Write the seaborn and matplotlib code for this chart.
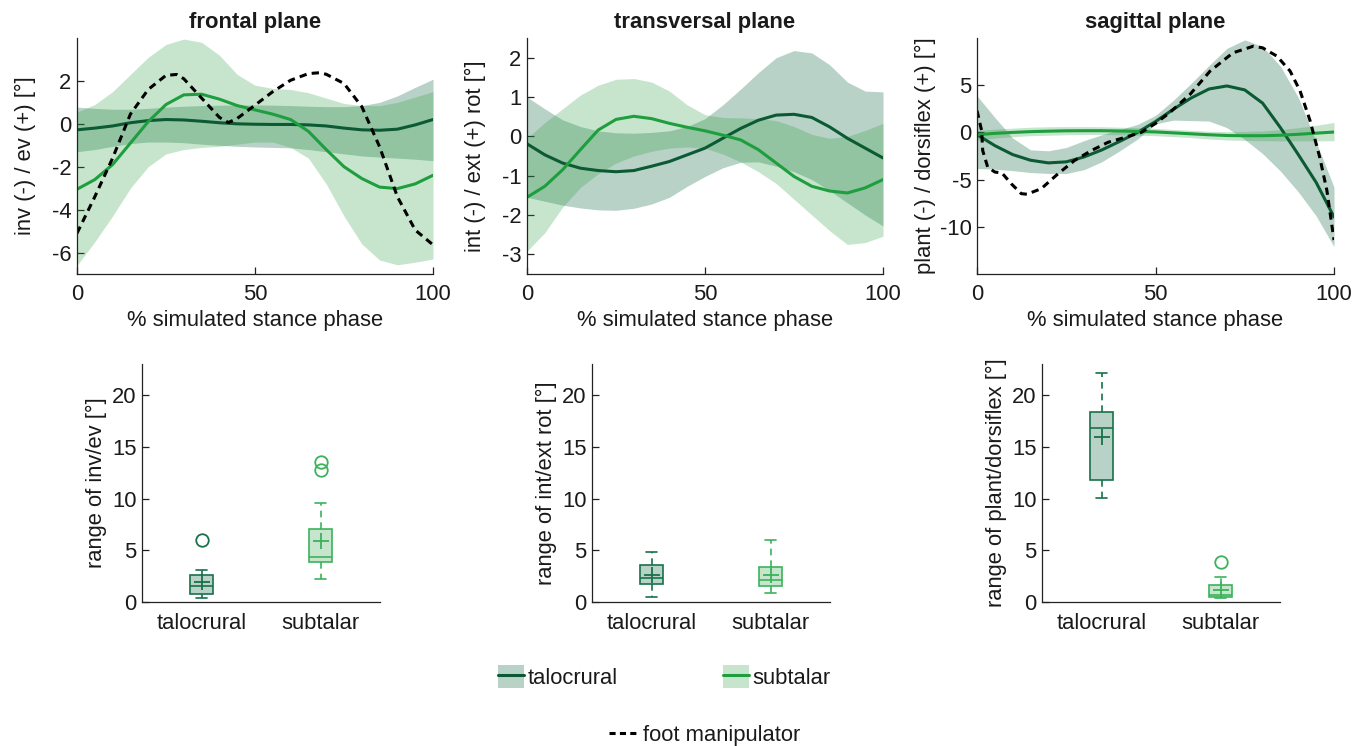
import numpy as np
import pandas as pd
import matplotlib
matplotlib.use("Agg")
import matplotlib.pyplot as plt
import seaborn as sns
from matplotlib.patches import Patch
from matplotlib.lines import Line2D
from matplotlib.legend_handler import HandlerTuple

# ---------------- data ----------------
pct = [0, 5, 10, 15, 20, 25, 30, 35, 40, 45, 50, 55, 60, 65, 70, 75, 80, 85, 90, 95, 100]

# frontal plane
fr_tc_mean = [-0.28, -0.2, -0.1, 0.05, 0.15, 0.2, 0.18, 0.12, 0.05, 0.0, -0.02, -0.03, -0.03, -0.05, -0.1, -0.2, -0.28, -0.3, -0.25, -0.05, 0.2]
fr_tc_up = [0.78, 0.72, 0.68, 0.68, 0.72, 0.78, 0.82, 0.85, 0.87, 0.88, 0.88, 0.87, 0.85, 0.82, 0.8, 0.8, 0.85, 1.0, 1.3, 1.7, 2.08]
fr_tc_lo = [-1.3, -1.2, -1.05, -0.92, -0.85, -0.85, -0.88, -0.95, -1.0, -1.05, -1.08, -1.1, -1.12, -1.2, -1.3, -1.4, -1.5, -1.55, -1.6, -1.65, -1.72]
fr_st_mean = [-3.05, -2.6, -1.9, -0.9, 0.1, 0.9, 1.35, 1.38, 1.15, 0.85, 0.65, 0.45, 0.2, -0.35, -1.2, -2.0, -2.55, -2.95, -3.02, -2.8, -2.4]
fr_st_up = [0.55, 0.9, 1.5, 2.3, 3.1, 3.7, 3.95, 3.8, 3.2, 2.3, 1.8, 1.65, 1.6, 1.45, 1.2, 0.95, 0.85, 0.85, 1.0, 1.25, 1.5]
fr_st_lo = [-6.6, -5.5, -4.3, -3.0, -2.0, -1.4, -1.2, -1.1, -1.05, -0.95, -0.85, -0.85, -1.1, -1.6, -2.8, -4.3, -5.6, -6.35, -6.57, -6.45, -6.3]
fr_fm_x = [0, 5, 10, 15, 20, 25, 28, 30, 35, 40, 42.5, 45, 50, 55, 60, 65, 68, 70, 75, 80, 85, 90, 95, 100]
fr_fm = [-5.1, -3.4, -1.6, 0.45, 1.6, 2.26, 2.3, 2.1, 1.2, 0.3, 0.06, 0.25, 0.87, 1.5, 2.03, 2.34, 2.38, 2.31, 1.88, 0.8, -1.07, -3.4, -4.95, -5.64]

# transversal plane
tr_tc_mean = [-0.19, -0.47, -0.68, -0.81, -0.87, -0.9, -0.87, -0.76, -0.64, -0.47, -0.3, -0.05, 0.2, 0.41, 0.54, 0.56, 0.48, 0.24, -0.05, -0.3, -0.55]
tr_tc_up = [1.0, 0.7, 0.42, 0.25, 0.14, 0.09, 0.08, 0.1, 0.14, 0.25, 0.45, 0.8, 1.2, 1.62, 2.0, 2.18, 2.12, 1.82, 1.38, 1.15, 1.13]
tr_tc_lo = [-1.55, -1.65, -1.75, -1.82, -1.87, -1.88, -1.83, -1.72, -1.55, -1.27, -1.02, -0.8, -0.66, -0.65, -0.76, -0.9, -1.1, -1.38, -1.69, -2.0, -2.28]
tr_st_mean = [-1.55, -1.27, -0.85, -0.34, 0.16, 0.43, 0.51, 0.45, 0.33, 0.23, 0.14, 0.03, -0.09, -0.34, -0.68, -1.02, -1.27, -1.39, -1.44, -1.31, -1.1]
tr_st_up = [-0.05, 0.35, 0.7, 1.05, 1.3, 1.45, 1.47, 1.38, 1.15, 0.8, 0.55, 0.48, 0.47, 0.45, 0.4, 0.25, 0.05, -0.05, 0.0, 0.15, 0.33]
tr_st_lo = [-2.92, -2.45, -1.8, -1.3, -0.95, -0.68, -0.5, -0.38, -0.3, -0.27, -0.3, -0.45, -0.65, -0.9, -1.2, -1.6, -2.0, -2.4, -2.75, -2.7, -2.54]

# sagittal plane
sg_tc_mean = [-0.24, -1.4, -2.35, -2.95, -3.23, -3.12, -2.6, -1.85, -0.95, 0.0, 1.15, 2.45, 3.65, 4.6, 4.92, 4.5, 3.1, 0.5, -2.35, -5.3, -8.96]
sg_tc_up = [3.87, 1.58, -0.6, -1.85, -1.95, -1.6, -0.87, -0.25, 0.3, 0.85, 1.8, 3.4, 5.2, 7.1, 8.9, 9.8, 9.1, 7.0, 3.7, -1.0, -5.8]
sg_tc_lo = [-3.83, -3.9, -4.05, -4.25, -4.35, -4.35, -3.95, -3.1, -1.95, -0.7, 0.9, 1.3, 1.25, 1.2, 0.5, -0.75, -2.25, -4.1, -6.3, -8.85, -12.1]
sg_st_mean = [-0.24, -0.1, 0.0, 0.08, 0.13, 0.17, 0.18, 0.18, 0.15, 0.1, 0.05, -0.05, -0.15, -0.25, -0.33, -0.35, -0.35, -0.3, -0.2, -0.08, 0.04]
sg_st_up = [0.2, 0.35, 0.45, 0.55, 0.6, 0.62, 0.62, 0.6, 0.55, 0.5, 0.42, 0.32, 0.22, 0.12, 0.08, 0.1, 0.15, 0.3, 0.5, 0.75, 1.05]
sg_st_lo = [-0.85, -0.6, -0.45, -0.35, -0.3, -0.25, -0.22, -0.22, -0.25, -0.3, -0.35, -0.45, -0.55, -0.7, -0.8, -0.85, -0.88, -0.9, -0.9, -0.9, -0.88]
sg_fm_x = [0, 1.3, 1.6, 3, 5, 7, 9.6, 12.4, 14, 18, 22.7, 27.3, 32, 36.7, 41.4, 46, 50, 54, 59.7, 65.3, 71.7, 77.4, 80, 84, 87.7, 90.5, 93.3, 96, 98, 100]
sg_fm = [2.3, 0.18, -1.93, -3.69, -4.2, -4.3, -5.44, -6.49, -6.55, -5.96, -4.38, -2.98, -1.93, -1.05, -0.53, 0.0, 0.95, 2.1, 4.04, 6.5, 8.43, 9.13, 8.96, 8.08, 6.5, 4.39, 1.23, -2.63, -6.14, -11.4]

# box plots (range of motion), groups: talocrural, subtalar
box_groups = ["talocrural", "subtalar"]
fr_whislo = [0.4, 2.25]; fr_q1 = [0.8, 3.88]; fr_med = [1.58, 4.33]; fr_q3 = [2.65, 7.1]
fr_whishi = [3.07, 9.6]; fr_mean = [1.94, 5.94]; fr_fliers = [[5.98], [12.76, 13.54]]
tr_whislo = [0.48, 0.84]; tr_q1 = [1.74, 1.55]; tr_med = [2.33, 2.16]; tr_q3 = [3.62, 3.36]
tr_whishi = [4.81, 5.98]; tr_mean = [2.58, 2.58]; tr_fliers = [[], []]
sg_whislo = [10.02, 0.39]; sg_q1 = [11.83, 0.48]; sg_med = [16.8, 0.71]; sg_q3 = [18.38, 1.68]
sg_whishi = [22.1, 2.42]; sg_mean = [15.93, 1.2]; sg_fliers = [[], [3.84]]

titles = ["frontal plane", "transversal plane", "sagittal plane"]
top_ylabels = ["inv (-) / ev (+) [°]", "int (-) / ext (+) rot [°]", "plant (-) / dorsiflex (+) [°]"]
bot_ylabels = ["range of inv/ev [°]", "range of int/ext rot [°]", "range of plant/dorsiflex [°]"]
xlabel = "% simulated stance phase"

# ---------------- style ----------------
sns.set_theme(style="ticks")
plt.rcParams['font.family'] = ['Liberation Sans', 'DejaVu Sans']
plt.rcParams['axes.unicode_minus'] = False
FS = 15.8
TC_LINE = '#0b5a33'
ST_LINE = '#1e9e3e'
TC_FILL = '#156c47'; TC_A = 0.30
ST_FILL = '#239b37'; ST_A = 0.25
TC_BOX = '#177249'
ST_BOX = '#3bb35a'
TXT = '#1a1a1a'

W, H = 1365, 746
fig = plt.figure(figsize=(W / 100, H / 100), dpi=100)
fig.patch.set_facecolor('white')

def fa(l, t, w, h):
    return [l / W, 1 - (t + h) / H, w / W, h / H]

top_axes = [fig.add_axes(fa(77, 38, 356, 236)),
            fig.add_axes(fa(527, 38, 356, 236)),
            fig.add_axes(fa(977, 38, 357, 236))]
bot_axes = [fig.add_axes(fa(142, 364, 238, 238)),
            fig.add_axes(fa(592, 364, 238, 238)),
            fig.add_axes(fa(1042, 364, 238, 238))]

planes = [
    (fr_tc_mean, fr_tc_up, fr_tc_lo, fr_st_mean, fr_st_up, fr_st_lo, fr_fm_x, fr_fm),
    (tr_tc_mean, tr_tc_up, tr_tc_lo, tr_st_mean, tr_st_up, tr_st_lo, None, None),
    (sg_tc_mean, sg_tc_up, sg_tc_lo, sg_st_mean, sg_st_up, sg_st_lo, sg_fm_x, sg_fm),
]
ylims = [(-7, 4), (-3.5, 2.5), (-15, 10)]
yticks = [[-6, -4, -2, 0, 2], [-3, -2, -1, 0, 1, 2], [-10, -5, 0, 5]]

for i, ax in enumerate(top_axes):
    tcm, tcu, tcl, stm, stu, stl, fmx, fm = planes[i]
    ax.fill_between(pct, tcl, tcu, color=TC_FILL, alpha=TC_A, lw=0)
    ax.fill_between(pct, stl, stu, color=ST_FILL, alpha=ST_A, lw=0)
    df = pd.DataFrame({"pct": pct, "tc": tcm, "st": stm})
    sns.lineplot(data=df, x="pct", y="tc", ax=ax, color=TC_LINE, lw=2.2)
    sns.lineplot(data=df, x="pct", y="st", ax=ax, color=ST_LINE, lw=2.2)
    if fm is not None:
        dff = pd.DataFrame({"x": fmx, "y": fm})
        sns.lineplot(data=dff, x="x", y="y", ax=ax, color='black', lw=2.2,
                     linestyle=(0, (2.4, 1.7)))
    ax.set_xlim(0, 100)
    ax.set_ylim(*ylims[i])
    ax.set_xticks([0, 50, 100])
    ax.set_yticks(yticks[i])
    ax.set_title(titles[i], fontsize=FS, fontweight='bold', pad=7, color=TXT)
    ax.set_xlabel(xlabel, fontsize=FS, labelpad=4, color=TXT)
    ax.set_ylabel(top_ylabels[i], fontsize=FS, color=TXT)
    ax.yaxis.set_label_coords(-41 / 356, 0.5)

box_sets = [
    (fr_whislo, fr_q1, fr_med, fr_q3, fr_whishi, fr_mean, fr_fliers),
    (tr_whislo, tr_q1, tr_med, tr_q3, tr_whishi, tr_mean, tr_fliers),
    (sg_whislo, sg_q1, sg_med, sg_q3, sg_whishi, sg_mean, sg_fliers),
]
box_cols = [(TC_BOX, TC_FILL, TC_A), (ST_BOX, ST_FILL, ST_A)]

for i, ax in enumerate(bot_axes):
    wl, q1, md, q3, wh, mn, fl = box_sets[i]
    for j in range(2):
        ec, fc, a = box_cols[j]
        stats = [dict(whislo=wl[j], q1=q1[j], med=md[j], q3=q3[j], whishi=wh[j],
                      mean=mn[j], fliers=fl[j], label=box_groups[j])]
        ax.bxp(stats, positions=[j + 1], widths=0.2, capwidths=0.1,
               patch_artist=True, showmeans=True, manage_ticks=False,
               boxprops=dict(facecolor=matplotlib.colors.to_rgba(fc, a), edgecolor=ec, lw=1.2),
               medianprops=dict(color=ec, lw=1.2),
               whiskerprops=dict(color=ec, lw=1.2, linestyle=(0, (4, 3))),
               capprops=dict(color=ec, lw=1.2),
               meanprops=dict(marker='+', markeredgecolor=ec, markersize=11, markeredgewidth=1.3),
               flierprops=dict(marker='o', markerfacecolor='none', markeredgecolor=ec,
                               markersize=9, markeredgewidth=1.3))
    ax.set_xlim(0.5, 2.5)
    ax.set_ylim(0, 23)
    ax.set_yticks([0, 5, 10, 15, 20])
    ax.set_xticks([1, 2])
    ax.set_xticklabels(box_groups)
    ax.set_ylabel(bot_ylabels[i], fontsize=FS, color=TXT)
    ax.yaxis.set_label_coords(-35 / 238, 0.5)

for ax in top_axes + bot_axes:
    sns.despine(ax=ax)
    ax.set_facecolor('white')
    for s in ['left', 'bottom']:
        ax.spines[s].set_linewidth(0.9)
        ax.spines[s].set_color('#222222')
    ax.tick_params(direction='in', labelsize=FS, width=0.9, color='#222222', labelcolor=TXT)
    ax.tick_params(axis='y', length=5, pad=4)
for ax in top_axes:
    ax.tick_params(axis='x', length=5, pad=7)
for ax in bot_axes:
    ax.tick_params(axis='x', length=0, pad=8)

# legends
h_tc = (Patch(facecolor=matplotlib.colors.to_rgba(TC_FILL, TC_A), edgecolor='none'),
        Line2D([], [], color=TC_LINE, lw=2.2))
h_st = (Patch(facecolor=matplotlib.colors.to_rgba(ST_FILL, ST_A), edgecolor='none'),
        Line2D([], [], color=ST_LINE, lw=2.2))
leg1 = fig.legend([h_tc, h_st], box_groups, loc='center', bbox_to_anchor=(664 / W, 1 - 677 / H),
                  ncol=2, frameon=False, fontsize=FS, handlelength=1.2, handleheight=1.2,
                  handletextpad=0.15, columnspacing=4.8, labelcolor=TXT,
                  handler_map={tuple: HandlerTuple(ndivide=1, pad=0)})
h_fm = Line2D([], [], color='black', lw=2.2, linestyle=(0, (2.0, 1.4)))
leg2 = fig.legend([h_fm], ["foot manipulator"], loc='center', bbox_to_anchor=(705 / W, 1 - 735 / H),
                  frameon=False, fontsize=FS, handlelength=1.4, handletextpad=0.15, labelcolor=TXT)

fig.savefig("out.png", dpi=100, facecolor='white')
